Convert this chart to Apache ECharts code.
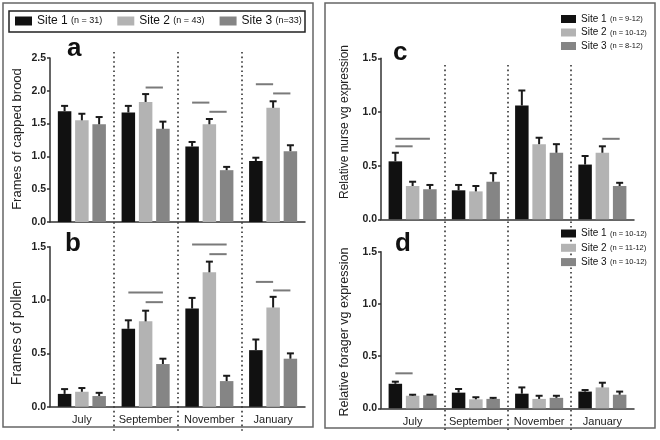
<!DOCTYPE html>
<html><head><meta charset="utf-8">
<script src="https://cdn.jsdelivr.net/npm/echarts@6/dist/echarts.min.js"></script>
<style>html,body{margin:0;padding:0;background:#fff}#c{width:660px;height:440px}</style>
</head><body><div id="c"></div>
<script>
// ---------- data ----------
const categories = ['July', 'September', 'November', 'January'];
const siteNames = ['Site 1', 'Site 2', 'Site 3'];
const legendLeftN = ['(n = 31)', '(n = 43)', '(n=33)'];
const legendNurseN = ['(n = 9-12)', '(n = 10-12)', '(n = 8-12)'];
const legendForagerN = ['(n = 10-12)', '(n = 11-12)', '(n = 10-12)'];

// a: frames of capped brood
const broodSite1 = [1.69, 1.67, 1.15, 0.93];
const broodSite2 = [1.55, 1.83, 1.49, 1.74];
const broodSite3 = [1.49, 1.42, 0.79, 1.08];
const broodErr1 = [0.08, 0.10, 0.07, 0.05];
const broodErr2 = [0.10, 0.12, 0.08, 0.10];
const broodErr3 = [0.11, 0.11, 0.05, 0.09];
const broodSig = [[1, 1, 2, 2.05], [2, 0, 1, 1.82], [2, 1, 2, 1.68], [3, 0, 1, 2.10], [3, 1, 2, 1.96]];

// b: frames of pollen
const pollenSite1 = [0.12, 0.73, 0.92, 0.53];
const pollenSite2 = [0.14, 0.80, 1.26, 0.93];
const pollenSite3 = [0.10, 0.40, 0.24, 0.45];
const pollenErr1 = [0.045, 0.08, 0.10, 0.10];
const pollenErr2 = [0.035, 0.10, 0.10, 0.10];
const pollenErr3 = [0.03, 0.05, 0.05, 0.05];
const pollenSig = [[1, 0, 2, 1.07], [1, 1, 2, 0.98], [2, 0, 2, 1.52], [2, 1, 2, 1.43], [3, 0, 1, 1.17], [3, 1, 2, 1.09]];

// c: relative nurse vg expression
const nurseSite1 = [0.54, 0.27, 1.06, 0.51];
const nurseSite2 = [0.31, 0.26, 0.70, 0.62];
const nurseSite3 = [0.28, 0.35, 0.62, 0.31];
const nurseErr1 = [0.08, 0.05, 0.14, 0.08];
const nurseErr2 = [0.04, 0.05, 0.06, 0.06];
const nurseErr3 = [0.04, 0.08, 0.08, 0.03];
const nurseSig = [[0, 0, 2, 0.75], [0, 0, 1, 0.68], [3, 1, 2, 0.75]];

// d: relative forager vg expression
const foragerSite1 = [0.235, 0.15, 0.14, 0.16];
const foragerSite2 = [0.12, 0.086, 0.09, 0.20];
const foragerSite3 = [0.125, 0.09, 0.10, 0.13];
const foragerErr1 = [0.02, 0.035, 0.06, 0.015];
const foragerErr2 = [0.01, 0.02, 0.03, 0.045];
const foragerErr3 = [0.005, 0.01, 0.02, 0.03];
const foragerSig = [[0, 0, 1, 0.335]];

const yTicksA = [0, 2.5, 0.5];   // min, max, interval
const yTicksB = [0, 1.5, 0.5];
const yTicksC = [0, 1.5, 0.5];
const yTicksD = [0, 1.5, 0.5];

// ---------- styling ----------
const FONT = '"Liberation Sans", Arial, Helvetica, sans-serif';
const BAR_W = 13.5, BAR_GAP = 0.28;
const STEP = BAR_W * (1 + BAR_GAP);
const siteColors = ['#111111', '#b3b3b3', '#858585'];
const AXIS_C = '#333';

const chart = echarts.init(document.getElementById('c'), null, {renderer: 'canvas'});

function barSeries(g, values, site) {
  return {type: 'bar', name: siteNames[site], xAxisIndex: g, yAxisIndex: g, data: values,
    barWidth: BAR_W, barGap: (BAR_GAP * 100) + '%', itemStyle: {color: siteColors[site]}, silent: true, z: 2};
}
function errSeries(g, values, errs, site) {
  return {type: 'custom', name: 'err' + g + site, xAxisIndex: g, yAxisIndex: g, silent: true, z: 3,
    encode: {x: 0, y: [1, 2]},
    data: values.map((v, i) => [i, v, +(v + errs[i]).toFixed(4)]),
    renderItem(params, api) {
      const c0 = api.coord([api.value(0), api.value(1)]);
      const c1 = api.coord([api.value(0), api.value(2)]);
      const x = c0[0] + (site - 1) * STEP;
      return {type: 'group', children: [
        {type: 'line', shape: {x1: x, y1: c0[1], x2: x, y2: c1[1]}, style: {stroke: '#1a1a1a', lineWidth: 2}},
        {type: 'line', shape: {x1: x - 3.5, y1: c1[1], x2: x + 3.5, y2: c1[1]}, style: {stroke: '#1a1a1a', lineWidth: 2}}
      ]};
    }};
}
function sigSeries(g, rows) {
  return {type: 'custom', name: 'sig' + g, xAxisIndex: g, yAxisIndex: g, silent: true, z: 3,
    encode: {x: 0, y: 3}, data: rows,
    renderItem(params, api) {
      const c = api.coord([api.value(0), api.value(3)]);
      const x1 = c[0] + (api.value(1) - 1) * STEP;
      const x2 = c[0] + (api.value(2) - 1) * STEP;
      return {type: 'line', shape: {x1: x1, y1: c[1], x2: x2, y2: c[1]}, style: {stroke: '#7a7a7a', lineWidth: 2}};
    }};
}
function panelSeries(g, vals, errs, sig) {
  const out = [];
  for (let s = 0; s < 3; s++) out.push(barSeries(g, vals[s], s));
  for (let s = 0; s < 3; s++) out.push(errSeries(g, vals[s], errs[s], s));
  out.push(sigSeries(g, sig));
  return out;
}
function xAxisFor(g, showLabels) {
  return {type: 'category', gridIndex: g, data: categories, boundaryGap: true,
    axisLine: {show: true, lineStyle: {color: AXIS_C, width: 1.5}},
    axisTick: {show: false},
    axisLabel: {show: showLabels, interval: 0, color: '#222', fontSize: 11, fontFamily: FONT, margin: 8},
    splitLine: {show: false}};
}
function yAxisFor(g, t) {
  return {type: 'value', gridIndex: g, min: t[0], max: t[1], interval: t[2],
    axisLine: {show: true, lineStyle: {color: AXIS_C, width: 1.5}},
    axisTick: {show: true, length: 3, lineStyle: {color: AXIS_C, width: 1.5}},
    axisLabel: {color: '#222', fontSize: 10.5, fontWeight: 'bold', fontFamily: FONT, margin: 4,
      formatter: v => v.toFixed(1)},
    splitLine: {show: false}};
}
function overlayX(g) {
  return {type: 'category', gridIndex: g, data: categories, boundaryGap: true,
    axisLine: {show: false}, axisTick: {show: false, interval: 0}, axisLabel: {show: false, interval: 0},
    splitLine: {show: true, interval: 0, showMinLine: false, showMaxLine: false,
      lineStyle: {color: '#333', width: 1.6, type: [1.6, 3]}}};
}
function legendFor(names, nText, left, top, big, small, gap, orient, itemW, itemH, lh) {
  return {orient: orient, left: left, top: top, padding: 0, itemGap: gap,
    itemWidth: itemW, itemHeight: itemH, icon: 'rect', selectedMode: false,
    data: names,
    formatter: name => '{s|' + name + '} {n|' + nText[names.indexOf(name)] + '}',
    textStyle: {fontFamily: FONT, color: '#111', rich: {
      s: {fontSize: big, fontFamily: FONT, color: '#111', lineHeight: lh},
      n: {fontSize: small, fontFamily: FONT, color: '#111', lineHeight: lh}}}};
}

const option = {
  animation: false,
  backgroundColor: '#fff',
  grid: [
    {left: 50, top: 58, width: 255, height: 164},
    {left: 50, top: 246.7, width: 255, height: 160},
    {left: 381, top: 58.3, width: 253, height: 161},
    {left: 381, top: 251.7, width: 253, height: 156.6},
    {left: 50, top: 52, width: 255, height: 381},
    {left: 381, top: 65, width: 253, height: 368}
  ],
  xAxis: [xAxisFor(0, false), xAxisFor(1, true), xAxisFor(2, false), xAxisFor(3, true), overlayX(4), overlayX(5)],
  yAxis: [yAxisFor(0, yTicksA), yAxisFor(1, yTicksB), yAxisFor(2, yTicksC), yAxisFor(3, yTicksD),
    {type: 'value', gridIndex: 4, show: false}, {type: 'value', gridIndex: 5, show: false}],
  legend: [
    legendFor(siteNames, legendLeftN, 15, 15, 12, 9, 15, 'horizontal', 17, 9, 14),
    legendFor(siteNames, legendNurseN, 561, 13, 10, 7.5, 1.5, 'vertical', 15, 8, 11),
    legendFor(siteNames, legendForagerN, 561, 227.5, 10, 7.5, 2.3, 'vertical', 15, 8, 11)
  ],
  series: [].concat(
    panelSeries(0, [broodSite1, broodSite2, broodSite3], [broodErr1, broodErr2, broodErr3], broodSig),
    panelSeries(1, [pollenSite1, pollenSite2, pollenSite3], [pollenErr1, pollenErr2, pollenErr3], pollenSig),
    panelSeries(2, [nurseSite1, nurseSite2, nurseSite3], [nurseErr1, nurseErr2, nurseErr3], nurseSig),
    panelSeries(3, [foragerSite1, foragerSite2, foragerSite3], [foragerErr1, foragerErr2, foragerErr3], foragerSig)
  ),
  graphic: [
    {type: 'rect', shape: {x: 3, y: 3, width: 310, height: 424}, style: {fill: 'none', stroke: '#666', lineWidth: 1.5}, silent: true},
    {type: 'rect', shape: {x: 325, y: 3, width: 330, height: 425}, style: {fill: 'none', stroke: '#666', lineWidth: 1.5}, silent: true},
    {type: 'rect', shape: {x: 9, y: 11, width: 296, height: 21}, style: {fill: 'none', stroke: '#222', lineWidth: 1.5}, silent: true},
    {type: 'text', left: 67, top: 36, style: {text: 'a', font: 'bold 26px ' + FONT, fill: '#111'}},
    {type: 'text', left: 65, top: 231, style: {text: 'b', font: 'bold 26px ' + FONT, fill: '#111'}},
    {type: 'text', left: 393, top: 40, style: {text: 'c', font: 'bold 26px ' + FONT, fill: '#111'}},
    {type: 'text', left: 395, top: 231, style: {text: 'd', font: 'bold 26px ' + FONT, fill: '#111'}},
    {type: 'text', x: 17, y: 139, rotation: Math.PI / 2, style: {text: 'Frames of capped brood', font: '13px ' + FONT, fill: '#222', align: 'center', verticalAlign: 'middle'}},
    {type: 'text', x: 17, y: 333, rotation: Math.PI / 2, style: {text: 'Frames of pollen', font: '14px ' + FONT, fill: '#222', align: 'center', verticalAlign: 'middle'}},
    {type: 'text', x: 345, y: 122, rotation: Math.PI / 2, style: {text: 'Relative nurse vg expression', font: '12px ' + FONT, fill: '#222', align: 'center', verticalAlign: 'middle'}},
    {type: 'text', x: 345, y: 332, rotation: Math.PI / 2, style: {text: 'Relative forager vg expression', font: '12.5px ' + FONT, fill: '#222', align: 'center', verticalAlign: 'middle'}}
  ]
};
chart.setOption(option);
</script>
</body></html>
